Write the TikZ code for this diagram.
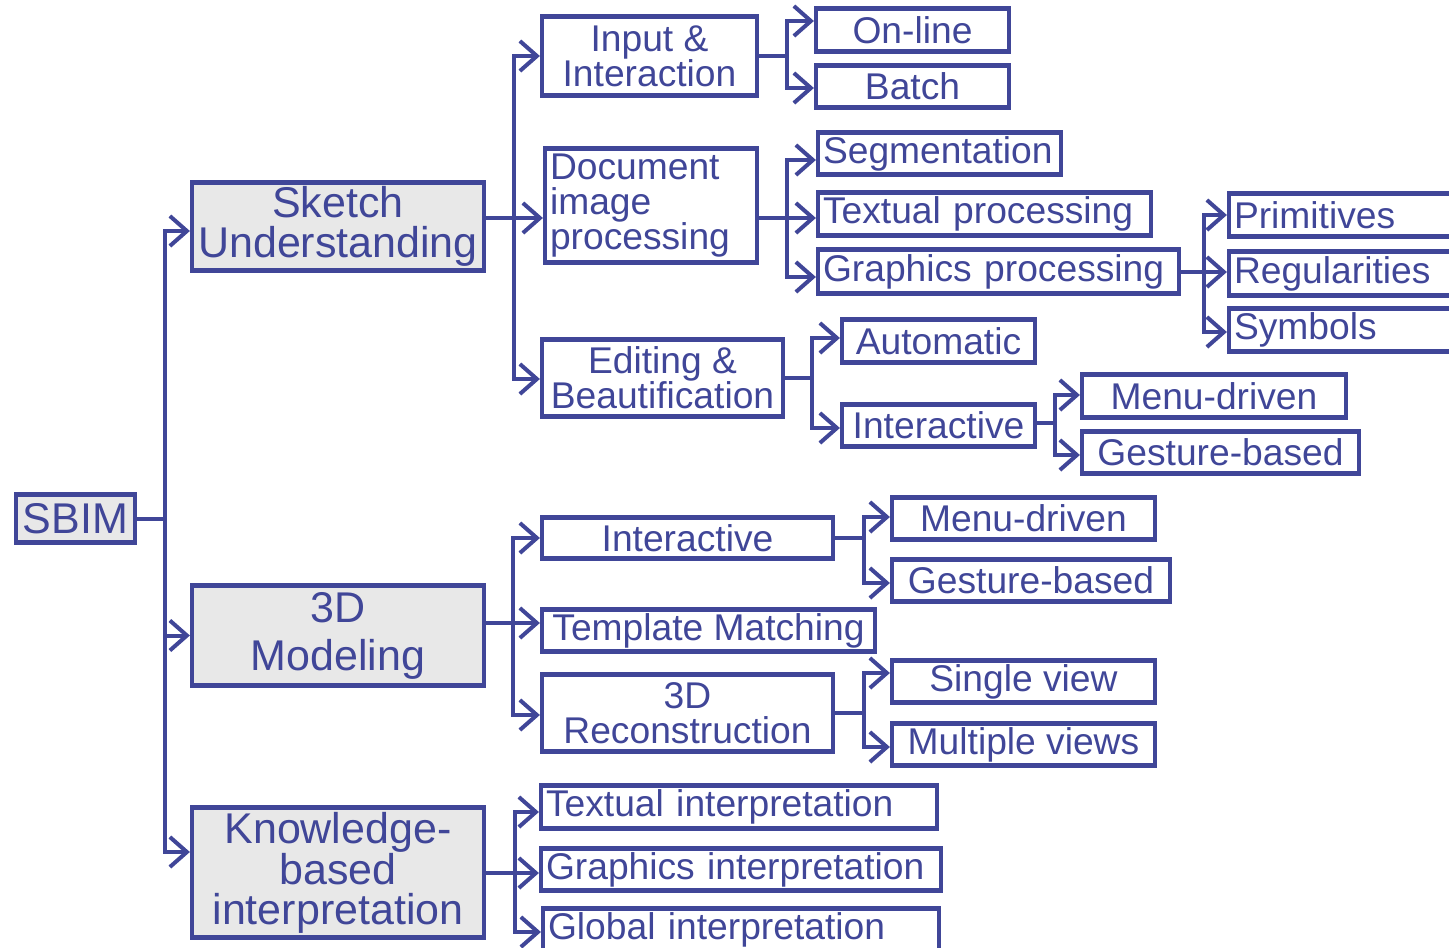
\documentclass[tikz,border=0pt]{standalone}
\usepackage{fontspec}
\setmainfont{Liberation Sans}
\usepackage{tikz}
\usetikzlibrary{arrows.meta}
\definecolor{sbimblue}{RGB}{64,70,152}
\definecolor{sbimgray}{RGB}{232,232,232}
\newcommand{\topfont}{\fontsize{43}{40}\selectfont}
\newcommand{\leaffont}{\fontsize{37.2}{35}\selectfont}

\begin{document}
\begin{tikzpicture}[x=1pt,y=-1pt,sbimblue,
	box/.style={draw,line width=4.2pt,inner sep=0pt,font=\leaffont,align=center},
	topbox/.style={box,fill=sbimgray,font=\topfont},
	lbox/.style={box,align=left,text width=#1,inner xsep=5pt},
	wire/.style={line width=4pt,-{Straight Barb[length=17pt,width=30pt]}}]
			\useasboundingbox (0,0) rectangle (1449,948);

			% main branches
			\node[topbox,minimum width=119pt,minimum height=48pt] (sbim) at (75.5,518.5) {SBIM};
			\node[topbox,minimum width=292pt,minimum height=88pt] (su) at (338,226.5) {Sketch\\Understanding};
			\node[topbox,minimum width=292pt,minimum height=100pt] (mod) at (338,635.5) {3D\\[8pt]Modeling};
			\node[topbox,minimum width=292pt,minimum height=130pt] (kb) at (338,872.5) {Knowledge-\\based\\interpretation};

			% sketch understanding
			\node[box,minimum width=215pt,minimum height=79pt] (inp) at (649.5,56) {Input \&\\Interaction};
			\node[lbox=202pt,minimum height=114pt] (doc) at (651,205.5) {Document\\image\\processing};
			\node[box,minimum width=241pt,minimum height=77pt] (edit) at (662.5,378) {Editing \&\\Beautification};

			\node[box,minimum width=193pt,minimum height=43pt] (online) at (912.5,30) {On-line};
			\node[box,minimum width=193pt,minimum height=42pt] (batch) at (912.5,86.5) {Batch};
			\node[lbox=233pt,minimum height=42pt] (seg) at (939.5,153.5) {Segmentation};
			\node[lbox=323pt,minimum height=43pt] (textp) at (984.5,214) {Textual processing};
			\node[lbox=351pt,minimum height=44pt] (graphp) at (998.5,271.5) {Graphics processing};
			\node[lbox=227pt,minimum height=43pt] (prim) at (1347.5,215) {Primitives};
			\node[lbox=227pt,minimum height=44pt] (reg) at (1347.5,273.5) {Regularities};
			\node[lbox=227pt,minimum height=43pt] (sym) at (1347.5,330) {Symbols};
			\node[box,minimum width=193pt,minimum height=43pt] (auto) at (938.5,341) {Automatic};
			\node[box,minimum width=193pt,minimum height=42pt] (inter1) at (938.5,425.5) {Interactive};
			\node[box,minimum width=264pt,minimum height=43pt] (menu1) at (1214,396) {Menu-driven};
			\node[box,minimum width=277pt,minimum height=42pt] (gest1) at (1220.5,452.5) {Gesture-based};

			% 3D modeling
			\node[box,minimum width=291pt,minimum height=41pt] (inter2) at (687.5,538) {Interactive};
			\node[box,minimum width=333pt,minimum height=42pt] (templ) at (708.5,630.5) {Template Matching};
			\node[box,minimum width=291pt,minimum height=77pt] (recon) at (687.5,713) {3D\\Reconstruction};
			\node[box,minimum width=263pt,minimum height=42pt] (menu2) at (1023.5,518.5) {Menu-driven};
			\node[box,minimum width=278pt,minimum height=42pt] (gest2) at (1031,580.5) {Gesture-based};
			\node[box,minimum width=263pt,minimum height=42pt] (single) at (1023.5,681.5) {Single view};
			\node[box,minimum width=263pt,minimum height=42pt] (multi) at (1023.5,744.5) {Multiple views};

			% knowledge-based interpretation
			\node[lbox=386pt,minimum height=43pt] (texti) at (739,807) {Textual interpretation};
			\node[lbox=390pt,minimum height=42pt] (graphi) at (741,869.5) {Graphics interpretation};
			\node[lbox=386pt,minimum height=43pt] (globi) at (741,930) {Global interpretation};

			% connectors
			\foreach \kid/\dy in {su/-4.5,mod/0,kb/20.5}
				\draw[wire] (sbim.east) -- ++(28,0) |- ([yshift=\dy pt]\kid.west);
			\foreach \kid/\dy in {inp/0,doc/-12.5,edit/-1}
				\draw[wire] ([yshift=8.5pt]su.east) -- ++(28,0) |- ([yshift=\dy pt]\kid.west);
			\foreach \kid/\dy in {online/9,batch/-1.5}
				\draw[wire] (inp.east) -- ++(28,0) |- ([yshift=\dy pt]\kid.west);
			\foreach \kid/\dy in {seg/-6.5,textp/-4,graphp/-5.5}
				\draw[wire] ([yshift=-12.5pt]doc.east) -- ++(28,0) |- ([yshift=\dy pt]\kid.west);
			\foreach \kid/\dy in {prim/0,reg/1.5,sym/-2}
				\draw[wire] (graphp.east) -- ++(23,0) |- ([yshift=\dy pt]\kid.west);
			\foreach \kid/\dy in {auto/3,inter1/-2.5}
				\draw[wire] (edit.east) -- ++(27,0) |- ([yshift=\dy pt]\kid.west);
			\foreach \kid/\dy in {menu1/1,gest1/-2.5}
				\draw[wire] ([yshift=2.5pt]inter1.east) -- ++(18,0) |- ([yshift=\dy pt]\kid.west);
			\foreach \kid/\dy in {inter2/0,templ/7.5,recon/-2}
				\draw[wire] ([yshift=12.5pt]mod.east) -- ++(27,0) |- ([yshift=\dy pt]\kid.west);
			\foreach \kid/\dy in {menu2/1.5,gest2/-2.5}
				\draw[wire] (inter2.east) -- ++(29,0) |- ([yshift=\dy pt]\kid.west);
			\foreach \kid/\dy in {single/8.5,multi/-2.5}
				\draw[wire] (recon.east) -- ++(29,0) |- ([yshift=\dy pt]\kid.west);
			\foreach \kid/\dy in {texti/-5,graphi/-3.5,globi/-2}
				\draw[wire] (kb.east) -- ++(29,0) |- ([yshift=\dy pt]\kid.west);
		\end{tikzpicture}
\end{document}
